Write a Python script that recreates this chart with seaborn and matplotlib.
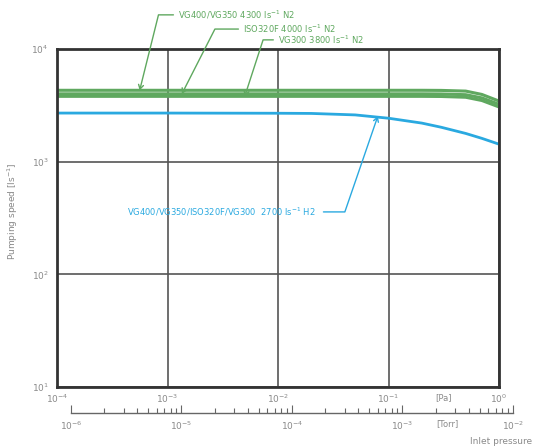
import numpy as np
import pandas as pd
import matplotlib
matplotlib.use("Agg")
import matplotlib.pyplot as plt
import seaborn as sns

# ---- data ----
pressure_pa = [1e-4, 1e-3, 1e-2, 0.02, 0.05, 0.1, 0.2, 0.3, 0.5, 0.7, 1.0]
speed_vg400 = [4300, 4300, 4300, 4300, 4300, 4300, 4300, 4290, 4230, 3950, 3450]
speed_iso320 = [4000, 4000, 4000, 4000, 4000, 4000, 4000, 3990, 3930, 3680, 3230]
speed_vg300 = [3800, 3800, 3800, 3800, 3800, 3800, 3800, 3790, 3730, 3490, 3060]
speed_h2 = [2700, 2700, 2690, 2680, 2600, 2430, 2200, 2020, 1780, 1610, 1430]

series_names = ["VG400/VG350 N2", "ISO320F N2", "VG300 N2", "All H2"]
series_colors = ["#5fa85f", "#5fa85f", "#5fa85f", "#2aa9e0"]

label_vg400 = "VG400/VG350 4300 ls$^{-1}$ N2"
label_iso320 = "ISO320F 4000 ls$^{-1}$ N2"
label_vg300 = "VG300 3800 ls$^{-1}$ N2"
label_h2 = "VG400/VG350/ISO320F/VG300  2700 ls$^{-1}$ H2"

pa_limits = (1e-4, 1.0)
torr_limits = (1e-6, 1e-2)
speed_limits = (10, 1e4)
PA_PER_TORR = 133.322

# ---- frame ----
rows = []
for name, vals in zip(series_names, [speed_vg400, speed_iso320, speed_vg300, speed_h2]):
    for p, s in zip(pressure_pa, vals):
        rows.append({"pressure": p, "speed": s, "series": name})
df = pd.DataFrame(rows)

sns.set_theme(style="white")
plt.rcParams['font.family'] = ['DejaVu Sans']

W, H = 534, 448
fig = plt.figure(figsize=(W / 100, H / 100), dpi=100)
L, R, T, B = 57, 499, 49, 387
ax = fig.add_axes([L / W, 1 - B / H, (R - L) / W, (B - T) / H])

lw = {"VG400/VG350 N2": 2.2, "ISO320F N2": 2.2, "VG300 N2": 2.2, "All H2": 2.0}
for name, col in zip(series_names, series_colors):
    sub = df[df.series == name]
    sns.lineplot(data=sub, x="pressure", y="speed", color=col, linewidth=lw[name],
                 ax=ax, legend=False, solid_capstyle="butt")

ax.set_xscale("log")
ax.set_yscale("log")
ax.set_xlim(*pa_limits)
ax.set_ylim(*speed_limits)
ax.set_xlabel("")
ax.set_ylabel("")
fig.text(13 / W, 1 - 211 / H, "Pumping speed [ls$^{-1}$]", fontsize=6.5, color="#888888",
         rotation=90, ha="center", va="center")

ax.xaxis.set_major_locator(matplotlib.ticker.LogLocator(base=10, numticks=10))
ax.yaxis.set_major_locator(matplotlib.ticker.LogLocator(base=10, numticks=10))
ax.xaxis.set_minor_locator(matplotlib.ticker.NullLocator())
ax.yaxis.set_minor_locator(matplotlib.ticker.NullLocator())
ax.grid(True, which="major", color="#555555", linewidth=1.2)
ax.tick_params(axis="both", length=0, labelsize=6.5, labelcolor="#8a8a8a")
ax.tick_params(axis="x", pad=4)
ax.tick_params(axis="y", pad=6)
for sp in ax.spines.values():
    sp.set_visible(True)
    sp.set_color("#333333")
    sp.set_linewidth(2.0)

# ---- annotations ----
green_txt = "#5fa85f"
blue_txt = "#2aa9e0"
arrow_g = dict(arrowstyle="->,head_length=0.5,head_width=0.3", color=green_txt, lw=1.0,
               shrinkA=1, shrinkB=0)
ann = [
    (label_vg400, 5.6e-4, 4300, 0.274, 1.101, 76),
    (label_iso320, 1.35e-3, 4000, 0.421, 1.059, 63),
    (label_vg300, 5.0e-3, 3800, 0.500, 1.027, 72),
]
for txt, xt, yt, fx, fy, angB in ann:
    ax.annotate(txt, xy=(xt, yt), xycoords="data", xytext=(fx, fy),
                textcoords="axes fraction", ha="left", va="center", fontsize=6,
                color=green_txt, annotation_clip=False,
                arrowprops=dict(arrow_g, relpos=(0, 0.5),
                                connectionstyle=f"angle,angleA=0,angleB={angB},rad=0"))

ax.annotate(label_h2, xy=(0.080, 2530), xycoords="data", xytext=(0.586, 0.518),
            textcoords="axes fraction", ha="right", va="center", fontsize=6,
            color=blue_txt, annotation_clip=False,
            arrowprops=dict(arrowstyle="->,head_length=0.5,head_width=0.3", color=blue_txt,
                            lw=1.0, shrinkA=3, shrinkB=0, relpos=(1, 0.5),
                            connectionstyle="angle,angleA=0,angleB=71,rad=0"))

# ---- Torr scale ----
dec = np.log10(pa_limits[1]) - np.log10(pa_limits[0])
ax_w = (R - L) / W
t_left = L / W + ax_w * (np.log10(torr_limits[0] * PA_PER_TORR) - np.log10(pa_limits[0])) / dec
t_w = ax_w * (np.log10(torr_limits[1]) - np.log10(torr_limits[0])) / dec
tax = fig.add_axes([t_left, 1 - 413 / H, t_w, 0.001])
tax.set_xscale("log")
tax.set_xlim(*torr_limits)
tax.set_yticks([])
tax.patch.set_alpha(0)
for k in ["top", "left", "right"]:
    tax.spines[k].set_visible(False)
tax.spines["bottom"].set_color("#666666")
tax.spines["bottom"].set_linewidth(1.0)
tax.xaxis.set_major_locator(matplotlib.ticker.LogLocator(base=10, numticks=10))
tax.xaxis.set_minor_locator(matplotlib.ticker.LogLocator(base=10, subs=np.arange(2, 10), numticks=20))
tax.xaxis.set_minor_formatter(matplotlib.ticker.NullFormatter())
tax.tick_params(axis="x", which="major", direction="in", length=6, width=0.8, color="#666666",
                labelsize=6.5, labelcolor="#8a8a8a", pad=5, bottom=True)
tax.tick_params(axis="x", which="minor", direction="in", length=3.5, width=0.8, color="#666666",
                bottom=True)

fig.text(443 / W, 1 - 398 / H, "[Pa]", fontsize=6, color="#8a8a8a", ha="center", va="center")
fig.text(447 / W, 1 - 424 / H, "[Torr]", fontsize=6, color="#8a8a8a", ha="center", va="center")
fig.text(532 / W, 1 - 441 / H, "Inlet pressure", fontsize=6.5, color="#8a8a8a", ha="right", va="center")

fig.savefig("out.png", dpi=100)
